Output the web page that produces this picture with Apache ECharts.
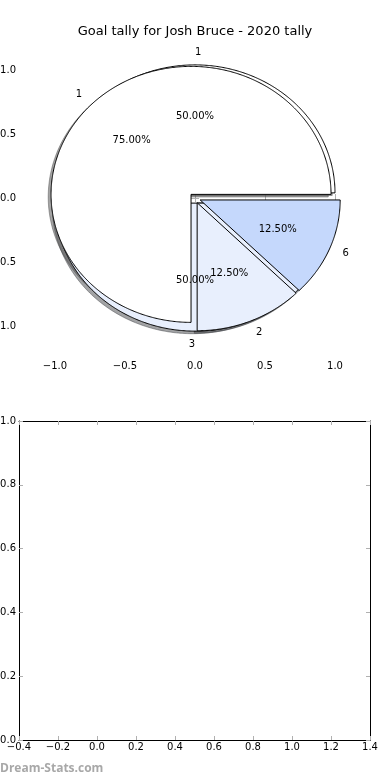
<!DOCTYPE html>
<html><head><meta charset="utf-8">
<script src="https://cdn.jsdelivr.net/npm/echarts@6/dist/echarts.min.js"></script>
<style>html,body{margin:0;padding:0;background:#fff}#c{width:390px;height:780px}</style>
</head><body><div id="c"></div>
<script>
// ---- data ----
const titleText = 'Goal tally for Josh Bruce - 2020 tally';
const pieALabels = ['1', '2', '6'];
const pieAValues = [6, 1, 1];
const pieBLabels = ['1', '3'];
const pieBValues = [1, 1];
const pieAxisTicks = [-1, -0.5, 0, 0.5, 1];
const lowerXMin = -0.4, lowerXMax = 1.4, lowerXStep = 0.2;
const lowerYMin = 0, lowerYMax = 1, lowerYStep = 0.2;
const watermark = 'Dream-Stats.com';

// ---- styles ----
const pieAColors = ['#ffffff', '#e8effd', '#c5d8fc'];
const pieBColors = ['#ffffff', '#e8effd'];
const EXPLODE = 0.04;
const SHADOW_OFF = -0.02;
const FONT = '"DejaVu Sans", sans-serif';
const tickColor = '#b0b0b0';

function fmt(v) {
  if (Math.abs(v) < 1e-9) return '0.0';
  return (v < 0 ? '\u2212' : '') + Math.abs(v).toFixed(1);
}

function wedgeGeom(values, i) {
  const tot = values.reduce((a, b) => a + b, 0);
  let c = 0;
  for (let j = 0; j < i; j++) c += values[j];
  const t1 = 2 * Math.PI * c / tot;
  const t2 = 2 * Math.PI * (c + values[i]) / tot;
  const tm = (t1 + t2) / 2;
  return { t1, t2, tm, cx: EXPLODE * Math.cos(tm), cy: EXPLODE * Math.sin(tm), frac: values[i] / tot };
}

function wedgePoints(api, w, dx, dy) {
  const pts = [api.coord([w.cx + dx, w.cy + dy])];
  const n = Math.max(4, Math.ceil((w.t2 - w.t1) / (Math.PI / 360)));
  for (let k = 0; k <= n; k++) {
    const t = w.t1 + (w.t2 - w.t1) * k / n;
    pts.push(api.coord([w.cx + dx + Math.cos(t), w.cy + dy + Math.sin(t)]));
  }
  return pts;
}

function shade(hex) {
  const r = parseInt(hex.slice(1, 3), 16) * 0.3, g = parseInt(hex.slice(3, 5), 16) * 0.3, b = parseInt(hex.slice(5, 7), 16) * 0.3;
  return 'rgba(' + Math.round(r) + ',' + Math.round(g) + ',' + Math.round(b) + ',0.5)';
}

function makeSeries(kind, labels, values, colors, z) {
  return {
    type: 'custom', xAxisIndex: 0, yAxisIndex: 0, z: z, silent: true, clip: false,
    animation: false,
    data: values.map((v, i) => [i, v]),
    renderItem: function (params, api) {
      const i = params.dataIndex;
      const w = wedgeGeom(values, i);
      if (kind === 'shadow') {
        return { type: 'polygon', shape: { points: wedgePoints(api, w, SHADOW_OFF, SHADOW_OFF) },
          style: { fill: shade(colors[i]), stroke: shade(colors[i]), lineWidth: 1 } };
      }
      if (kind === 'wedge') {
        return { type: 'polygon', shape: { points: wedgePoints(api, w, 0, 0) },
          style: { fill: colors[i], stroke: '#000', lineWidth: 1, lineJoin: 'miter' } };
      }
      const xt = w.cx + 1.1 * Math.cos(w.tm), yt = w.cy + 1.1 * Math.sin(w.tm);
      const xp = w.cx + 0.6 * Math.cos(w.tm), yp = w.cy + 0.6 * Math.sin(w.tm);
      const pl = api.coord([xt, yt]), pp = api.coord([xp, yp]);
      return { type: 'group', children: [
        { type: 'text', x: pl[0], y: pl[1], style: { text: labels[i], fill: '#000', font: '10px ' + FONT,
          align: xt > 0 ? 'left' : 'right', verticalAlign: 'middle' } },
        { type: 'text', x: pp[0], y: pp[1], style: { text: (w.frac * 100).toFixed(2) + '%', fill: '#000', font: '10px ' + FONT,
          align: 'center', verticalAlign: 'middle' } }
      ] };
    }
  };
}

const labelStyle = { fontFamily: FONT, fontSize: 10, color: '#000' };

function pieAxis(pos, showLabel, isX) {
  return {
    gridIndex: 0, type: 'value', position: pos, min: -1.25, max: 1.25,
    splitLine: { show: false }, axisLine: { show: false },
    axisTick: { show: true, inside: true, length: 4, lineStyle: { color: tickColor, width: 1 }, customValues: pieAxisTicks },
    axisLabel: Object.assign({ show: showLabel, customValues: pieAxisTicks, formatter: fmt, margin: isX ? 3 : 4 }, labelStyle)
  };
}

function boxAxis(pos, showLabel, min, max, step, isX) {
  return {
    gridIndex: 1, type: 'value', position: pos, min: min, max: max, interval: step,
    splitLine: { show: false },
    axisLine: { show: true, onZero: false, lineStyle: { color: '#000', width: 1 } },
    axisTick: { show: true, inside: true, length: 4, lineStyle: { color: tickColor, width: 1 } },
    axisLabel: Object.assign({ show: showLabel, formatter: fmt, margin: isX ? 2 : 3, showMinLabel: true, showMaxLabel: true }, labelStyle)
  };
}

const chart = echarts.init(document.getElementById('c'), null, { renderer: 'canvas' });
chart.setOption({
  backgroundColor: '#fff',
  animation: false,
  title: { text: titleText, left: 'center', top: 20,
    textStyle: { fontFamily: FONT, fontSize: 13, fontWeight: 'normal', color: '#000' } },
  grid: [
    { left: 20, top: 38, width: 350, height: 320, containLabel: false, outerBoundsMode: 'none' },
    { left: 19, top: 421, width: 351, height: 319, containLabel: false, outerBoundsMode: 'none' }
  ],
  xAxis: [
    pieAxis('bottom', true, true),
    pieAxis('top', false, true),
    boxAxis('bottom', true, lowerXMin, lowerXMax, lowerXStep, true),
    boxAxis('top', false, lowerXMin, lowerXMax, lowerXStep, true)
  ],
  yAxis: [
    Object.assign(pieAxis('left', true, false), { gridIndex: 0 }),
    Object.assign(pieAxis('right', false, false), { gridIndex: 0 }),
    boxAxis('left', true, lowerYMin, lowerYMax, lowerYStep, false),
    boxAxis('right', false, lowerYMin, lowerYMax, lowerYStep, false)
  ],
  series: [
    makeSeries('shadow', pieBLabels, pieBValues, pieBColors, 1),
    makeSeries('shadow', pieALabels, pieAValues, pieAColors, 1),
    makeSeries('wedge', pieBLabels, pieBValues, pieBColors, 2),
    makeSeries('wedge', pieALabels, pieAValues, pieAColors, 3),
    makeSeries('label', pieBLabels, pieBValues, pieBColors, 5),
    makeSeries('label', pieALabels, pieAValues, pieAColors, 5)
  ],
  graphic: [
    { type: 'text', left: 0, top: 763, silent: true,
      style: { text: watermark, font: 'bold 12px "Open Sans", sans-serif', fill: '#a8a8a8' } }
  ]
});
</script>
</body></html>
